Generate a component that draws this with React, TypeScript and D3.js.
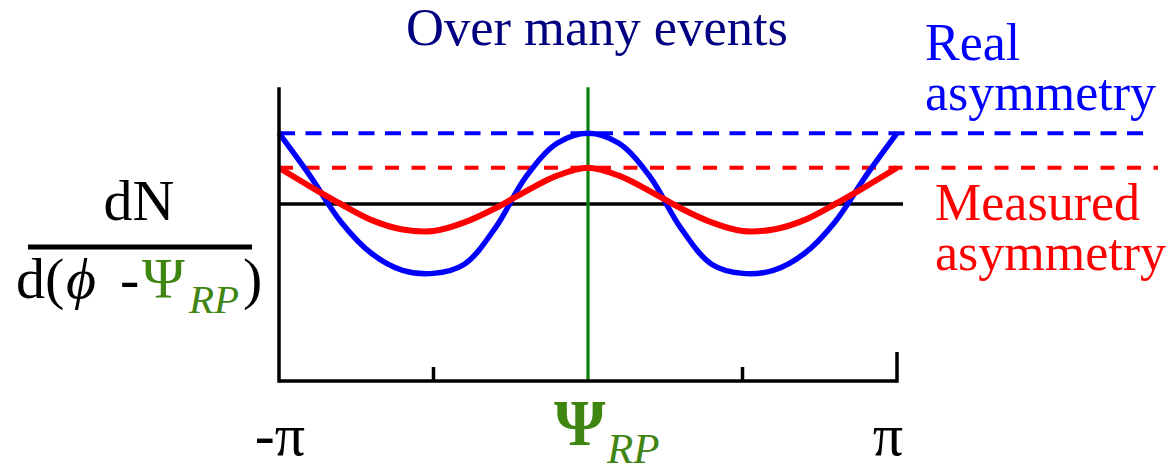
import React from "react";
import * as d3 from "d3";

// Azimuthal angle relative to the reaction plane, in units of π
const phase = [
  -1, -0.9, -0.8, -0.7, -0.6, -0.5, -0.4, -0.3, -0.2, -0.1, 0,
  0.1, 0.2, 0.3, 0.4, 0.5, 0.6, 0.7, 0.8, 0.9, 1,
];
// dN/d(φ-Ψ) relative to the isotropic level (= 1)
const realAsymmetry = [
  1.4, 1.16, 0.9, 0.72, 0.625, 0.608, 0.66, 0.865, 1.156, 1.343, 1.4,
  1.343, 1.156, 0.865, 0.66, 0.608, 0.625, 0.72, 0.9, 1.16, 1.4,
];
const measuredAsymmetry = [
  1.205, 1.1, 1.0, 0.909, 0.856, 0.847, 0.896, 0.976, 1.073, 1.16, 1.205,
  1.16, 1.073, 0.976, 0.896, 0.847, 0.856, 0.909, 1.0, 1.1, 1.205,
];
const realPeak = 1.4;
const measuredPeak = 1.205;
const isotropicLevel = 1;
const minorTicks = [-0.5, 0.5];
const axisTop = 1.66;

const W = 1173;
const H = 472;
const FONT = "'Liberation Serif', 'Times New Roman', serif";
const BLUE = "#0000ff";
const RED = "#ff0000";
const GREEN_LINE = "#0a800a";
const GREEN_TEXT = "#3f8512";

export default function App() {
  const x = d3.scaleLinear().domain([-1, 1]).range([279, 897]);
  const y = d3.scaleLinear().domain([0, 1]).range([381, 204]);

  const line = d3
    .line<number>()
    .x((_, i) => x(phase[i]))
    .y((d) => y(d))
    .curve(d3.curveCatmullRom.alpha(0.5));

  const x0 = x(-1);
  const x1 = x(1);
  const y0 = y(0);

  return (
    <svg
      width={W}
      height={H}
      style={{ position: "absolute", left: 0, top: 0, background: "#fff", fontFamily: FONT }}
    >
      {/* title */}
      <text x={597} y={45} fontSize={52.5} fill="#000080" textAnchor="middle">
        Over many events
      </text>

      {/* reference levels */}
      <line
        x1={x0}
        x2={1153}
        y1={y(realPeak)}
        y2={y(realPeak)}
        stroke={BLUE}
        strokeWidth={4}
        strokeDasharray="16 10.5"
      />
      <line
        x1={x0}
        x2={1158}
        y1={y(measuredPeak)}
        y2={y(measuredPeak)}
        stroke={RED}
        strokeWidth={4}
        strokeDasharray="14 12.5"
      />

      {/* isotropic baseline */}
      <line
        x1={x0}
        x2={x1 + 6}
        y1={y(isotropicLevel)}
        y2={y(isotropicLevel)}
        stroke="#000"
        strokeWidth={3.5}
      />

      {/* reaction plane */}
      <line
        x1={x(0)}
        x2={x(0)}
        y1={y(axisTop)}
        y2={y0}
        stroke={GREEN_LINE}
        strokeWidth={3.2}
      />

      {/* distributions */}
      <path
        d={line(realAsymmetry) ?? ""}
        fill="none"
        stroke={BLUE}
        strokeWidth={5.5}
        strokeLinejoin="round"
      />
      <path
        d={line(measuredAsymmetry) ?? ""}
        fill="none"
        stroke={RED}
        strokeWidth={6}
        strokeLinejoin="round"
      />

      {/* axes */}
      <line x1={x0} x2={x0} y1={y(axisTop)} y2={y0 + 1.75} stroke="#000" strokeWidth={3.5} />
      <line x1={x0} x2={x1} y1={y0} y2={y0} stroke="#000" strokeWidth={3.5} />
      <line x1={x1} x2={x1} y1={y0 + 1.75} y2={y0 - 29} stroke="#000" strokeWidth={3.5} />
      {minorTicks.map((t) => (
        <line
          key={t}
          x1={x(t)}
          x2={x(t)}
          y1={y0}
          y2={y0 - 14}
          stroke="#000"
          strokeWidth={3.5}
        />
      ))}

      {/* x tick labels */}
      <text x={305} y={455} fontSize={60} textAnchor="end">
        -π
      </text>
      <text x={888} y={455} fontSize={60} textAnchor="middle">
        π
      </text>
      <text x={554} y={445} fontSize={66} fontWeight="bold" fill={GREEN_TEXT}>
        Ψ
      </text>
      <text x={607} y={463} fontSize={43} fontStyle="italic" fill={GREEN_TEXT}>
        RP
      </text>

      {/* y label: dN / d(φ - Ψ_RP) */}
      <text x={139} y={220} fontSize={58} textAnchor="middle">
        dN
      </text>
      <line x1={28} x2={252} y1={247} y2={247} stroke="#000" strokeWidth={5} />
      <g fontSize={58}>
        <text x={16} y={298}>d(</text>
        <text x={66} y={298} fontStyle="italic">ϕ</text>
        <text x={120} y={298}>-</text>
        <text x={142} y={298} fill={GREEN_TEXT}>Ψ</text>
        <text x={189} y={313} fontSize={41} fontStyle="italic" fill={GREEN_TEXT}>
          RP
        </text>
        <text x={243} y={298}>)</text>
      </g>

      {/* series annotations */}
      <text fontSize={52} fill={BLUE}>
        <tspan x={925} y={60}>Real</tspan>
        <tspan x={925} y={110}>asymmetry</tspan>
      </text>
      <text fontSize={52} fill={RED}>
        <tspan x={935} y={220}>Measured</tspan>
        <tspan x={935} y={270}>asymmetry</tspan>
      </text>
    </svg>
  );
}
